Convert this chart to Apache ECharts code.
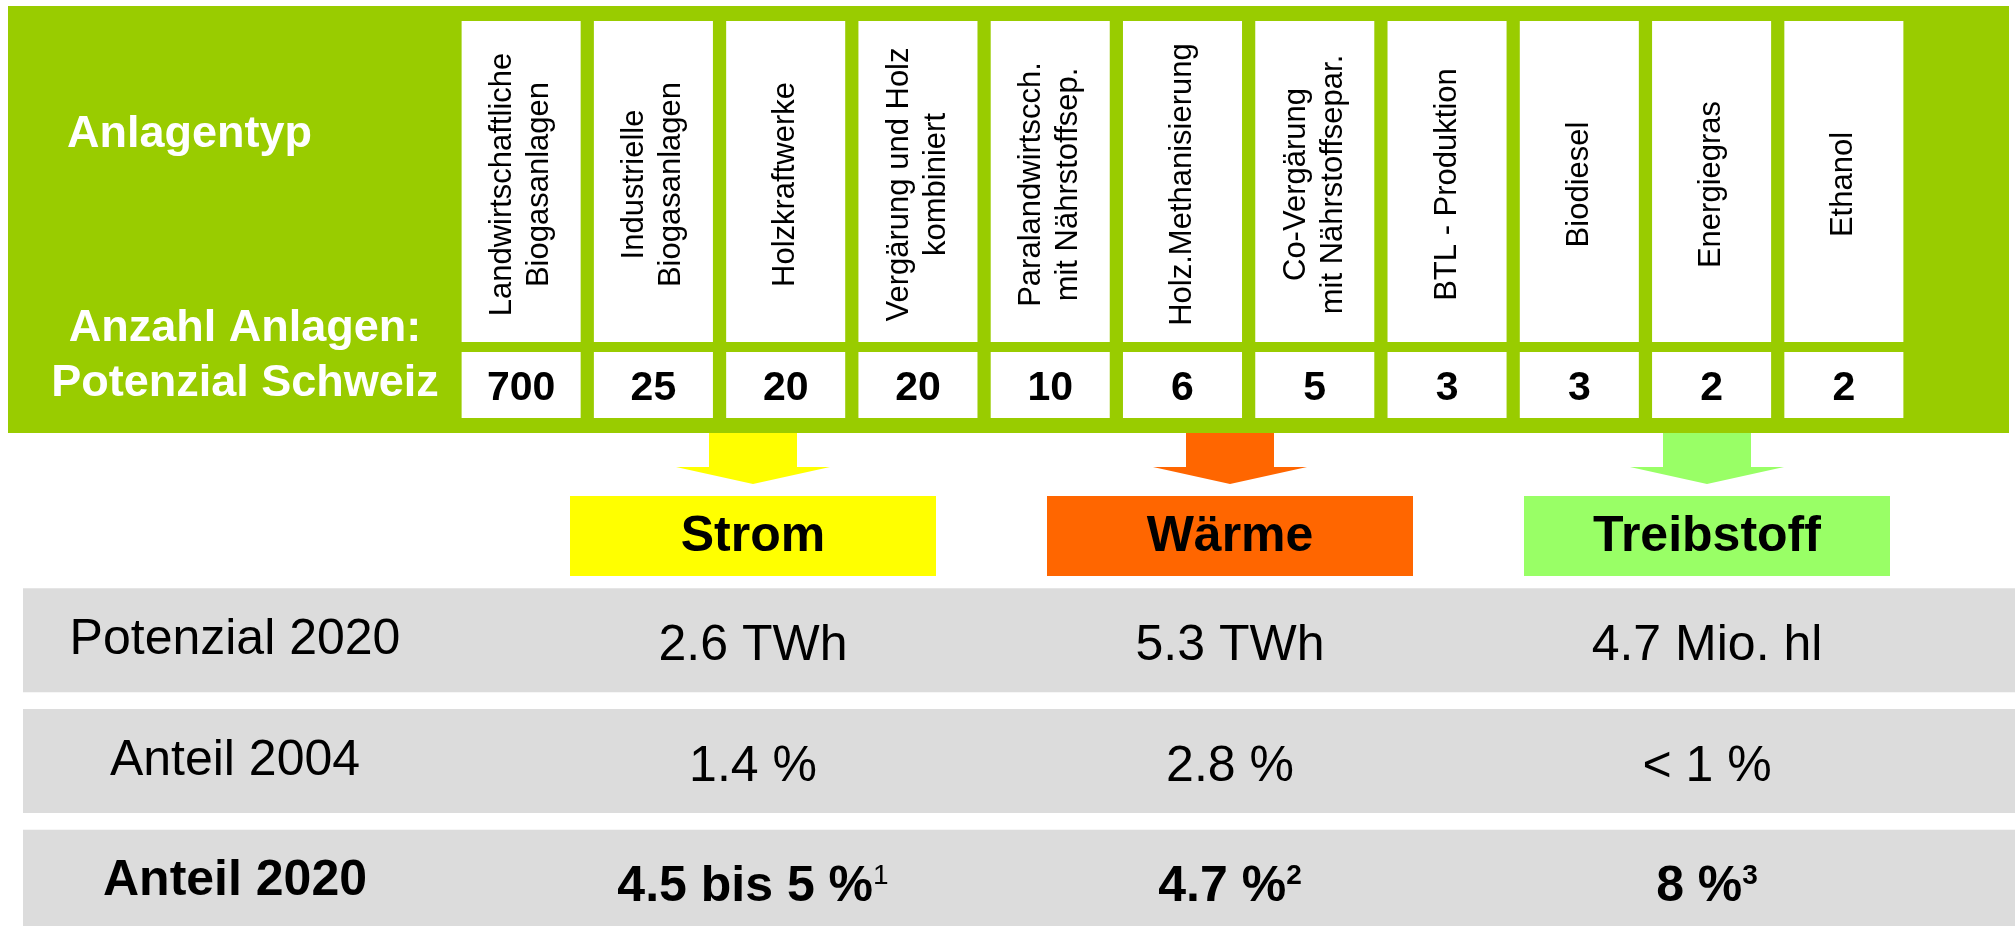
<!DOCTYPE html>
<html>
<head>
<meta charset="utf-8">
<script src="https://cdn.jsdelivr.net/npm/echarts@6/dist/echarts.min.js"></script>
<style>
html,body{margin:0;padding:0;background:#fff;}
#chart{width:2015px;height:926px;}
</style>
</head>
<body>
<div id="chart"></div>
<script>
// ---------- data ----------
const plantTypes = [
  'Landwirtschaftliche\nBiogasanlagen',
  'Industrielle\nBiogasanlagen',
  'Holzkraftwerke',
  'Vergärung und Holz\nkombiniert',
  'Paralandwirtscch.\nmit Nährstoffsep.',
  'Holz.Methanisierung',
  'Co-Vergärung\nmit Nährstoffsepar.',
  'BTL - Produktion',
  'Biodiesel',
  'Energiegras',
  'Ethanol'
];
const plantCounts = [700, 25, 20, 20, 10, 6, 5, 3, 3, 2, 2];
const outputs = ['Strom', 'Wärme', 'Treibstoff'];
const rowLabels = ['Potenzial 2020', 'Anteil 2004', 'Anteil 2020'];
const potenzial2020 = ['2.6 TWh', '5.3 TWh', '4.7 Mio. hl'];
const anteil2004 = ['1.4 %', '2.8 %', '< 1 %'];
const anteil2020 = ['4.5 bis 5 %', '4.7 %', '8 %'];
const footnotes = ['1', '2', '3'];
const headerTitle = 'Anlagentyp';
const headerCountTitle = 'Anzahl Anlagen:\nPotenzial Schweiz';

// ---------- styles ----------
const FONT = '"Liberation Sans", Arial, Helvetica, sans-serif';
const GREEN = '#99cc00';
const GRAY = '#dcdcdc';
const outputColors = ['#ffff00', '#ff6600', '#99ff66'];
const footnoteWeights = ['normal', 'bold', 'bold'];

const valueRows = [potenzial2020, anteil2004, anteil2020];
const valueCells = [];
valueRows.forEach((row, r) => row.forEach((v, c) => valueCells.push([c, r])));

const chart = echarts.init(document.getElementById('chart'), null, {renderer: 'canvas'});

const hiddenCat = (data, extra) => Object.assign({type: 'category', data: data, show: false, boundaryGap: true}, extra || {});
const G = (o) => Object.assign({outerBoundsMode: 'none', containLabel: false}, o);

const option = {
  backgroundColor: '#ffffff',
  animation: false,
  graphic: [
    {type: 'rect', left: 8, top: 6, z: -10, shape: {width: 2001, height: 427}, style: {fill: GREEN}},
    {type: 'text', x: 67, y: 135, z: 10,
      style: {text: headerTitle, fill: '#ffffff', font: 'bold 45px ' + FONT,
        textAlign: 'left', textVerticalAlign: 'middle', align: 'left', verticalAlign: 'middle'}},
    {type: 'text', x: 245, y: 356, z: 10,
      style: {text: headerCountTitle, fill: '#ffffff', font: 'bold 45px ' + FONT, lineHeight: 55,
        textAlign: 'center', textVerticalAlign: 'middle', align: 'center', verticalAlign: 'middle'}}
  ],
  grid: [
    G({left: 455, width: 1455, top: 21, height: 321}),
    G({left: 455, width: 1455, top: 352, height: 66}),
    G({left: 514.5, width: 1431, top: 496, height: 80}),
    G({left: 23, right: 0, top: 580, height: 362}),
    G({left: 514.5, width: 1431, top: 580, height: 362})
  ],
  xAxis: [
    hiddenCat(plantTypes, {gridIndex: 0}),
    hiddenCat(plantTypes, {gridIndex: 1}),
    hiddenCat(outputs, {gridIndex: 2}),
    {type: 'value', gridIndex: 3, min: 0, max: 1, show: false},
    hiddenCat(outputs, {gridIndex: 4})
  ],
  yAxis: [
    hiddenCat([''], {gridIndex: 0}),
    hiddenCat([''], {gridIndex: 1}),
    hiddenCat([''], {gridIndex: 2}),
    hiddenCat(rowLabels, {gridIndex: 3, inverse: true}),
    {
      type: 'category', gridIndex: 4, data: rowLabels, inverse: true, show: true, z: 6,
      axisLine: {show: false}, axisTick: {show: false}, splitLine: {show: false},
      axisLabel: {
        margin: 279.5, align: 'center', verticalAlign: 'middle',
        formatter: (v, i) => (i === 2 ? '{b|' + v + '}' : '{n|' + v + '}'),
        rich: {
          n: {fontSize: 50, fontFamily: FONT, color: '#000'},
          b: {fontSize: 50, fontFamily: FONT, fontWeight: 'bold', color: '#000'}
        }
      }
    }
  ],
  series: [
    // plant type name boxes
    {
      type: 'custom', xAxisIndex: 0, yAxisIndex: 0, z: 3, silent: true,
      data: plantTypes.map((n, i) => [i, 0]),
      renderItem: function (params, api) {
        const i = params.dataIndex;
        const c = api.coord([api.value(0), 0]);
        const s = api.size([1, 1]);
        const w = s[0] * 0.9;
        return {type: 'group', children: [
          {type: 'rect', shape: {x: c[0] - w / 2, y: c[1] - s[1] / 2, width: w, height: s[1]}, style: {fill: '#ffffff'}},
          {type: 'text', x: c[0], y: c[1] + 3, rotation: Math.PI / 2,
            style: {text: plantTypes[i], fill: '#000', font: '31px ' + FONT, lineHeight: 37,
              align: 'center', verticalAlign: 'middle'}}
        ]};
      }
    },
    // plant counts
    {
      type: 'custom', xAxisIndex: 1, yAxisIndex: 1, z: 3, silent: true,
      data: plantCounts.map((v, i) => [i, 0]),
      renderItem: function (params, api) {
        const i = params.dataIndex;
        const c = api.coord([api.value(0), 0]);
        const s = api.size([1, 1]);
        const w = s[0] * 0.9;
        return {type: 'group', children: [
          {type: 'rect', shape: {x: c[0] - w / 2, y: c[1] - s[1] / 2, width: w, height: s[1]}, style: {fill: '#ffffff'}},
          {type: 'text', x: c[0], y: c[1] + 4,
            style: {text: String(plantCounts[i]), fill: '#000', font: 'bold 41px ' + FONT,
              align: 'center', verticalAlign: 'middle'}}
        ]};
      }
    },
    // output boxes with arrows
    {
      type: 'custom', xAxisIndex: 2, yAxisIndex: 2, z: 3, silent: true,
      data: outputs.map((o, i) => [i, 0]),
      renderItem: function (params, api) {
        const i = params.dataIndex;
        const c = api.coord([api.value(0), 0]);
        const s = api.size([1, 1]);
        const w = 366, h = s[1];
        const top = c[1] - h / 2;
        const cx = c[0];
        return {type: 'group', children: [
          {type: 'polygon', shape: {points: [
            [cx - 44, top - 63], [cx + 44, top - 63], [cx + 44, top - 29], [cx + 77, top - 29],
            [cx, top - 12], [cx - 77, top - 29], [cx - 44, top - 29]
          ]}, style: {fill: outputColors[i]}},
          {type: 'rect', shape: {x: cx - w / 2, y: top, width: w, height: h}, style: {fill: outputColors[i]}},
          {type: 'text', x: cx, y: c[1] + 1,
            style: {text: outputs[i], fill: '#000', font: 'bold 50px ' + FONT,
              align: 'center', verticalAlign: 'middle'}}
        ]};
      }
    },
    // gray row bands
    {
      type: 'custom', xAxisIndex: 3, yAxisIndex: 3, z: 1, silent: true,
      data: rowLabels.map((r, i) => [0, i]),
      renderItem: function (params, api) {
        const r = params.dataIndex;
        const a = api.coord([0, r]);
        const b = api.coord([1, r]);
        const h = 104;
        return {type: 'rect', shape: {x: a[0], y: a[1] - h / 2, width: b[0] - a[0], height: h}, style: {fill: GRAY}};
      }
    },
    // values
    {
      type: 'custom', xAxisIndex: 4, yAxisIndex: 4, z: 4, silent: true,
      data: valueCells,
      renderItem: function (params, api) {
        const col = api.value(0), row = api.value(1);
        const c = api.coord([col, row]);
        const txt = valueRows[row][col];
        let style;
        if (row === 2) {
          style = {
            text: '{b|' + txt + '}{s|' + footnotes[col] + '}',
            rich: {
              b: {fontSize: 50, fontFamily: FONT, fontWeight: 'bold', fill: '#000', verticalAlign: 'bottom'},
              s: {fontSize: 28, fontFamily: FONT, fontWeight: footnoteWeights[col], fill: '#000', verticalAlign: 'top'}
            },
            align: 'center', verticalAlign: 'middle'
          };
        } else {
          style = {text: txt, fill: '#000', font: '50px ' + FONT, align: 'center', verticalAlign: 'middle'};
        }
        return {type: 'text', x: c[0], y: c[1] + 6, style: style};
      }
    }
  ]
};
chart.setOption(option);
</script>
</body>
</html>
